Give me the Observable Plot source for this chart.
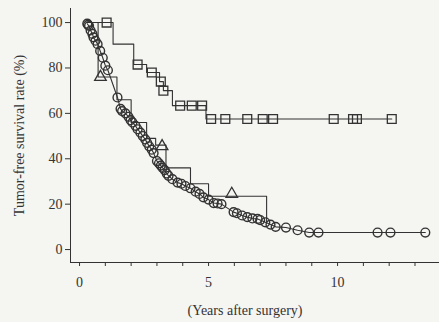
<!DOCTYPE html>
<html><head><meta charset="utf-8">
<script src="https://cdn.jsdelivr.net/npm/d3@7"></script>
<script src="https://cdn.jsdelivr.net/npm/@observablehq/plot@0.6"></script>
<style>body{margin:0;background:#f5f5f2;}</style>
</head><body><div id="chart"></div>
<script>
// Circle group (largest group)
const circleYears = [0.3,0.33,0.37,0.43,0.5,0.54,0.62,0.7,0.8,0.9,1.0,1.1,1.47,1.59,1.65,1.78,1.9,1.98,2.05,2.17,2.25,2.36,2.45,2.55,2.62,2.7,2.8,2.87,3.0,3.08,3.15,3.22,3.3,3.38,3.45,3.6,3.8,3.95,4.1,4.3,4.5,4.65,4.8,5.0,5.2,5.35,5.5,5.97,6.1,6.3,6.5,6.7,6.9,7.0,7.2,7.4,7.6,8.0,8.45,8.9,9.26,11.55,12.05,13.4];
const circleRate  = [99.5,99,98.5,96.5,95,93.5,92,90.5,87.5,84.5,81,79,67,62,61,60,58.5,57,56,54.5,53,51.5,50,48.5,47,45.5,44,42.5,39,38,37,36,35,33.5,32.5,31,29.5,29,28,27,25.5,24.5,23,22,20.5,20.3,20,16.5,16,15,14.3,13.7,13.5,13,12,11,10,9.7,8.5,7.5,7.5,7.5,7.5,7.5];
// Square group: step curve and marks
const squareStepYears = [0.3,1.3,2.1,2.6,3.1,3.25,3.6,4.9,12.1];
const squareStepRate  = [100,90.5,81.5,78,74,70,63.4,57.5,57.5];
const squareYears = [1.05,2.25,2.8,3.15,3.25,3.9,4.35,4.75,5.1,5.65,6.5,7.1,7.5,9.85,10.6,10.75,12.1];
const squareRate  = [100,81.5,78,74,70,63.4,63.4,63.4,57.5,57.5,57.5,57.5,57.5,57.5,57.5,57.5,57.5];
// Triangle group: step curve and marks
const triStepYears = [0.3,0.72,1.45,2.0,2.6,2.95,3.35,4.3,5.0,7.25];
const triStepRate  = [100,76,66,56,49,46,36,29,23.5,12];
const triYears = [0.81,3.2,5.9];
const triRate  = [76,45.5,24.5];
// Axes
const yTicks = [0,20,40,60,80,100];
const xTicks = [0,1,2,3,4,5,6,7,8,9,10,11,12,13];
const xTickLabels = {0:"0",5:"5",10:"10"};
const yLabel = "Tumor-free survival rate (%)";
const xLabel = "(Years after surgery)";

const ink = "#333333";
const chart = Plot.plot({
  width: 439, height: 322,
  marginLeft: 70, marginRight: 0, marginTop: 8, marginBottom: 60,
  style: {background: "#f5f5f2", fontFamily: "Liberation Serif", fontSize: "14px", color: ink},
  x: {domain: [-0.35, 13.95], ticks: xTicks, tickSize: 4, tickPadding: 11, line: true, label: null,
      tickFormat: d => xTickLabels[d] ?? ""},
  y: {domain: [-5.7, 106.2], ticks: yTicks, tickSize: 5, tickPadding: 3, line: true,
      label: yLabel, labelAnchor: "center", labelOffset: 56, labelArrow: "none"},
  marks: [
    Plot.line({length: squareStepYears.length}, {x: squareStepYears, y: squareStepRate, curve: "step-after", stroke: ink, strokeWidth: 1.1}),
    Plot.line({length: triStepYears.length}, {x: triStepYears, y: triStepRate, curve: "step-after", stroke: ink, strokeWidth: 1.1}),
    Plot.line({length: circleYears.length}, {x: circleYears, y: circleRate, stroke: ink, strokeWidth: 1.1}),
    Plot.dot({length: circleYears.length}, {x: circleYears, y: circleRate, r: 4.4, stroke: ink, strokeWidth: 1.4, fill: "none"}),
    Plot.dot({length: squareYears.length}, {x: squareYears, y: squareRate, symbol: "square", r: 5, stroke: ink, strokeWidth: 1.3, fill: "none"}),
    Plot.dot({length: triYears.length}, {x: triYears, y: triRate, symbol: "triangle", r: 4.3, stroke: ink, strokeWidth: 1.3, fill: "none"}),
    Plot.text([xLabel], {frameAnchor: "bottom", text: d => d, dx: -10, dy: 52, fontSize: 14, fill: ink})
  ]
});
document.getElementById("chart").appendChild(chart);
</script>
</body></html>
